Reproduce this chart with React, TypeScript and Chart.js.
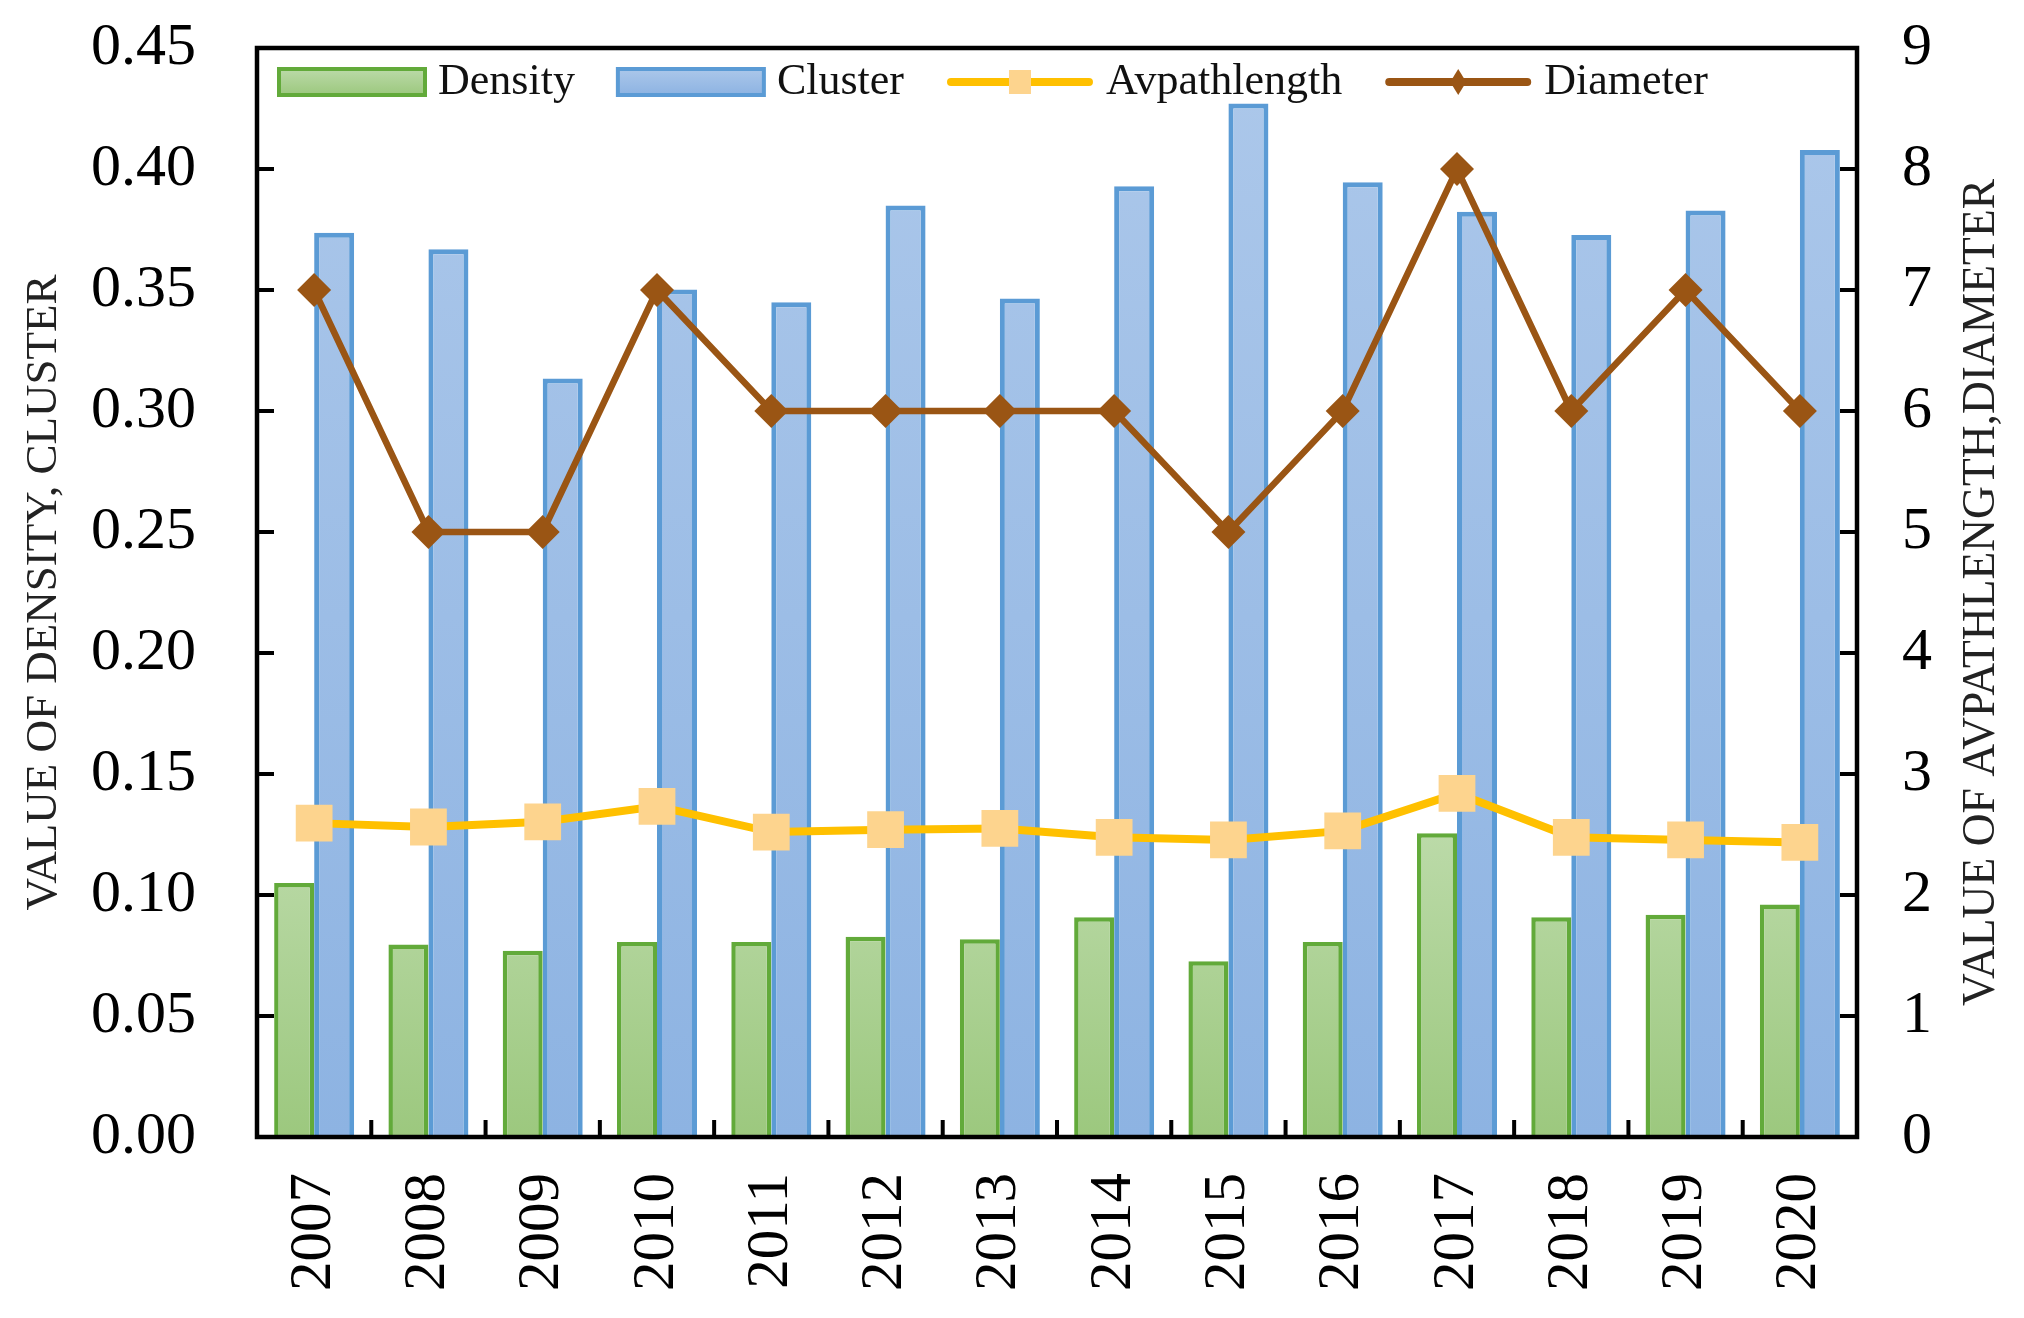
import React, { useEffect, useRef } from 'react';
import { Chart, registerables } from 'chart.js';

Chart.register(...registerables);

const years = ['2007', '2008', '2009', '2010', '2011', '2012', '2013', '2014', '2015', '2016', '2017', '2018', '2019', '2020'];
const density = [0.105, 0.0795, 0.077, 0.0806, 0.0806, 0.0827, 0.0817, 0.0908, 0.0726, 0.0806, 0.1255, 0.0908, 0.0918, 0.0961];
const cluster = [0.3737, 0.3668, 0.3134, 0.3502, 0.3449, 0.3849, 0.3465, 0.3929, 0.4271, 0.3945, 0.3823, 0.3727, 0.3828, 0.4079];
const avpathlength = [2.594, 2.562, 2.605, 2.733, 2.52, 2.54, 2.55, 2.477, 2.455, 2.53, 2.84, 2.477, 2.455, 2.434];
const diameter = [7, 5, 5, 7, 6, 6, 6, 6, 5, 6, 8, 6, 7, 6];

const leftTitle = 'VALUE OF DENSITY, CLUSTER';
const rightTitle = 'VALUE OF AVPATHLENGTH,DIAMETER';

const FONT = '"Liberation Serif", "Times New Roman", serif';

const GREEN_BORDER = '#62aa3a';
const BLUE_BORDER = '#5b9bd5';
const GOLD = '#ffc000';
const GOLD_MARKER = '#fdd48e';
const BROWN = '#9a5514';

function greenFill(ctx: CanvasRenderingContext2D, yBottom: number, yTop: number) {
  const g = ctx.createLinearGradient(0, yBottom, 0, yTop);
  g.addColorStop(0, '#9cc87e');
  g.addColorStop(1, '#bbdaa8');
  return g;
}
function blueFill(ctx: CanvasRenderingContext2D, yBottom: number, yTop: number) {
  const g = ctx.createLinearGradient(0, yBottom, 0, yTop);
  g.addColorStop(0, '#8db3e2');
  g.addColorStop(1, '#abc7ea');
  return g;
}

const framePlugin = {
  id: 'frameAndExtras',
  afterDraw(chart: any) {
    const { ctx, chartArea: a, scales } = chart;
    const x = scales.x;
    const y = scales.y;
    const y1 = scales.y1;
    ctx.save();
    ctx.strokeStyle = '#000';
    ctx.lineWidth = 4;
    const tl = 17;
    ctx.beginPath();
    y.ticks.forEach((t: any) => {
      const py = y.getPixelForValue(t.value);
      ctx.moveTo(a.left, py);
      ctx.lineTo(a.left + tl, py);
    });
    y1.ticks.forEach((t: any) => {
      const py = y1.getPixelForValue(t.value);
      ctx.moveTo(a.right, py);
      ctx.lineTo(a.right - tl, py);
    });
    const n = years.length;
    const cw = (x.right - x.left) / n;
    for (let i = 1; i < n; i++) {
      const px = x.left + i * cw;
      ctx.moveTo(px, a.bottom);
      ctx.lineTo(px, a.bottom - tl);
    }
    ctx.stroke();
    ctx.lineWidth = 4.5;
    ctx.strokeRect(a.left, a.top, a.right - a.left, a.bottom - a.top);

    ctx.fillStyle = '#222';
    ctx.font = `45.5px ${FONT}`;
    ctx.textAlign = 'center';
    ctx.textBaseline = 'middle';
    ctx.translate(chart.width - 42, (a.top + a.bottom) / 2);
    ctx.rotate(-Math.PI / 2);
    ctx.fillText(rightTitle, 0, 0);
    ctx.restore();

    ctx.save();
    ctx.font = `44px ${FONT}`;
    ctx.textBaseline = 'middle';
    ctx.textAlign = 'left';
    const cy = a.top + 34;
    let cx = a.left + 22;
    const sample = 146;
    const datasets = chart.data.datasets;
    datasets.forEach((ds: any, i: number) => {
      if (i < 2) {
        const h = 26;
        ctx.fillStyle = i === 0 ? greenFill(ctx, cy + h / 2, cy - h / 2) : blueFill(ctx, cy + h / 2, cy - h / 2);
        ctx.fillRect(cx, cy - h / 2, sample, h);
        ctx.lineWidth = 4;
        ctx.strokeStyle = ds.borderColor;
        ctx.strokeRect(cx, cy - h / 2, sample, h);
      } else {
        ctx.strokeStyle = ds.borderColor;
        ctx.lineWidth = 8;
        ctx.lineCap = 'round';
        ctx.beginPath();
        ctx.moveTo(cx + 4, cy);
        ctx.lineTo(cx + sample - 4, cy);
        ctx.stroke();
        const mx = cx + sample / 2;
        ctx.fillStyle = ds.pointBackgroundColor;
        if (i === 2) {
          ctx.fillRect(mx - 11, cy - 12, 22, 24);
        } else {
          ctx.beginPath();
          ctx.moveTo(mx, cy - 13);
          ctx.lineTo(mx + 8, cy);
          ctx.lineTo(mx, cy + 13);
          ctx.lineTo(mx - 8, cy);
          ctx.closePath();
          ctx.fill();
        }
      }
      ctx.fillStyle = '#111';
      const tx = cx + sample + 13;
      ctx.fillText(ds.label, tx, cy);
      cx = tx + ctx.measureText(ds.label).width + 43;
    });
    ctx.restore();
  },
};

export default function App() {
  const ref = useRef<HTMLCanvasElement | null>(null);
  useEffect(() => {
    document.body.style.margin = '0';
    const canvas = ref.current;
    if (!canvas) return;
    const chart = new Chart(canvas, {
      type: 'bar',
      data: {
        labels: years,
        datasets: [
          {
            type: 'bar',
            label: 'Density',
            data: density,
            yAxisID: 'y',
            order: 2,
            borderColor: GREEN_BORDER,
            borderWidth: 4.5,
            backgroundColor: (c: any) => {
              const ch = c.chart;
              const a = ch.chartArea;
              if (!a) return '#aad08f';
              return greenFill(ch.ctx, a.bottom, ch.scales.y.getPixelForValue(0.125));
            },
            categoryPercentage: 0.7,
            barPercentage: 1.0,
          } as any,
          {
            type: 'bar',
            label: 'Cluster',
            data: cluster,
            yAxisID: 'y',
            order: 3,
            borderColor: BLUE_BORDER,
            borderWidth: 5,
            backgroundColor: (c: any) => {
              const ch = c.chart;
              const a = ch.chartArea;
              if (!a) return '#9dbfe8';
              return blueFill(ch.ctx, a.bottom, ch.scales.y.getPixelForValue(0.43));
            },
            categoryPercentage: 0.7,
            barPercentage: 1.0,
          } as any,
          {
            type: 'line',
            label: 'Avpathlength',
            data: avpathlength,
            yAxisID: 'y1',
            order: 0,
            borderColor: GOLD,
            borderWidth: 8,
            pointStyle: 'rect',
            pointRadius: 26,
            pointBackgroundColor: GOLD_MARKER,
            pointBorderWidth: 0,
            pointBorderColor: GOLD_MARKER,
            tension: 0,
          } as any,
          {
            type: 'line',
            label: 'Diameter',
            data: diameter,
            yAxisID: 'y1',
            order: 1,
            borderColor: BROWN,
            borderWidth: 6.5,
            pointStyle: 'rectRot',
            pointRadius: 17,
            pointBackgroundColor: BROWN,
            pointBorderWidth: 0,
            pointBorderColor: BROWN,
            tension: 0,
          } as any,
        ],
      },
      options: {
        responsive: false,
        animation: false,
        devicePixelRatio: 1,
        layout: { padding: { top: 48, left: 0, right: 0, bottom: 0 } },
        plugins: {
          legend: { display: false },
          tooltip: { enabled: false },
        },
        scales: {
          x: {
            type: 'category',
            offset: true,
            grid: { display: false, drawTicks: false },
            border: { display: false },
            ticks: {
              color: '#000',
              font: { family: FONT, size: 59 },
              maxRotation: 90,
              minRotation: 90,
              padding: 36,
              autoSkip: false,
            },
            afterFit: (s: any) => {
              s.height = 181;
            },
          },
          y: {
            position: 'left',
            min: 0,
            max: 0.45,
            grid: { display: false, drawTicks: false },
            border: { display: false },
            ticks: {
              stepSize: 0.05,
              color: '#000',
              font: { family: FONT, size: 60 },
              padding: 61,
              callback: (v: any) => Number(v).toFixed(2),
            },
            title: {
              display: true,
              text: leftTitle,
              color: '#222',
              font: { family: FONT, size: 45 },
              padding: { top: 17, bottom: 0 },
            },
            afterFit: (s: any) => {
              s.width = 257;
              s.paddingTop = 0;
              s.paddingBottom = 0;
            },
          },
          y1: {
            position: 'right',
            min: 0,
            max: 9,
            grid: { display: false, drawTicks: false },
            border: { display: false },
            ticks: {
              stepSize: 1,
              color: '#000',
              font: { family: FONT, size: 60 },
              padding: 45,
            },
            afterFit: (s: any) => {
              s.width = 167;
              s.paddingTop = 0;
              s.paddingBottom = 0;
            },
          },
        },
      } as any,
      plugins: [framePlugin],
    });
    return () => chart.destroy();
  }, []);
  return (
    <div style={{ width: 2024, height: 1318, background: '#fff' }}>
      <canvas ref={ref} width={2024} height={1318} style={{ display: 'block' }} />
    </div>
  );
}
